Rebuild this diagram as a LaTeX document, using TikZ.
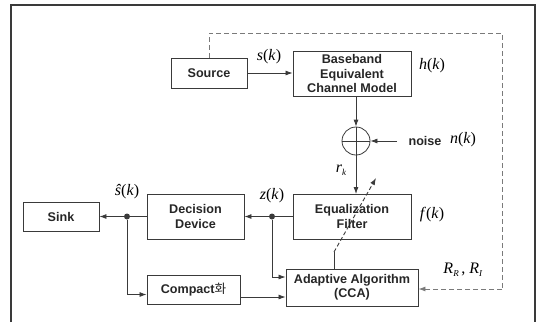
\documentclass[tikz,border=0pt]{standalone}
\usepackage{fontspec}
\setmainfont{Liberation Sans}
\newfontfamily\serf{Liberation Serif}
\newfontfamily\kr{Noto Sans CJK KR}
\usetikzlibrary{arrows.meta}
\definecolor{ln}{HTML}{3A3A3A}
\definecolor{dsh}{HTML}{7A7A7A}
\newcommand{\mlab}[1]{{\serf\fontsize{16}{18}\selectfont #1}}
\begin{document}
\begin{tikzpicture}[x=1pt,y=-1pt,
  blk/.style={draw=ln,line width=0.9pt,fill=white,inner sep=0pt,font=\fontsize{12.6}{14.2}\selectfont\bfseries,align=center,text=black!85},
  con/.style={draw=ln,line width=0.8pt},
  arr/.style={con,-{Latex[length=7pt,width=5pt]}},
  dsharr/.style={draw=dsh,line width=0.9pt,dash pattern=on 5pt off 3pt},
  dotn/.style={circle,fill=ln,inner sep=0pt,minimum size=6pt}]
\useasboundingbox (0,0) rectangle (537,322);
\draw[draw=ln,line width=1.2pt] (11,322) -- (11,5) -- (535,5) -- (535,322);
% blocks
\node[blk,minimum width=76pt,minimum height=30pt] (src) at (209,73) {Source};
\node[blk,minimum width=118pt,minimum height=45pt] (chan) at (352,73.5) {Baseband\\Equivalent\\Channel Model};
\node[draw=ln,line width=0.8pt,circle,minimum size=28pt,inner sep=0pt] (sum) at (356,141) {};
\draw[con] (sum.north) -- (sum.south) (sum.west) -- (sum.east);
\node[blk,minimum width=118pt,minimum height=45pt] (eq) at (352,216.5) {Equalization\\Filter};
\node[blk,minimum width=97pt,minimum height=45pt] (dec) at (195.5,216.5) {Decision\\Device};
\node[blk,minimum width=76pt,minimum height=29pt] (sink) at (61,216.5) {Sink};
\node[blk,minimum width=132pt,minimum height=37pt] (adapt) at (352,287.5) {Adaptive Algorithm\\(CCA)};
\node[blk,minimum width=93pt,minimum height=29pt] (comp) at (193.5,289.5) {Compact{\kr\mdseries 화}};
\node[dotn] (dz) at (272,216.5) {};
\node[dotn] (ds) at (127,216.5) {};
\coordinate (nz) at (397,141);
\coordinate (ch1) at (356,96);
\coordinate (eqt) at (356,194);
\coordinate (dashTop) at (209,33);
\coordinate (dashR) at (502,33);
\coordinate (adT) at (334,269);
\coordinate (adK) at (334,252);
\coordinate (adE) at (376,178);
% connectors
\draw[arr] (src.east) -- (chan.west |- src.east);
\draw[arr] (ch1) -- (sum.north);
\draw[arr] (nz) -- (sum.east);
\draw[arr] (sum.south) -- (eqt);
\draw[con] (eq.west) -- (dz);
\draw[arr] (dz) -- (dec.east);
\draw[con] (dec.west) -- (ds);
\draw[arr] (ds) -- (sink.east);
\draw[arr] (dz) |- (adapt.west |- 0,277);
\draw[arr] (ds) |- (comp.west |- 0,294.5);
\draw[arr] (comp.east |- 0,297) -- (adapt.west |- 0,297);
\draw[dsharr] (src.north) -- (dashTop) -- (dashR) -- (dashR |- 0,289);
\draw[dsharr,-{Latex[length=7pt,width=5pt]}] (dashR |- 0,289) -- (adapt.east |- 0,289);
\draw[con] (adT) -- (adK);
\draw[dsharr,draw=ln,dash pattern=on 4pt off 2.5pt,-{Latex[length=7pt,width=5pt]}] (adK) -- (adE);
% labels
\node (ls) at (269,57) {\mlab{\textit{s}(\textit{k})}};
\node (lh) at (432,66) {\mlab{\textit{h}(\textit{k})}};
\node[font=\fontsize{12.6}{14}\selectfont\bfseries,text=black!85] (lnoise) at (425,141) {noise};
\node (ln) at (463,140) {\mlab{\textit{n}(\textit{k})}};
\node (lr) at (341,170) {\mlab{\textit{r}\raisebox{-3pt}{\fontsize{9}{10}\selectfont\textit{k}}}};
\node (lz) at (272,196) {\mlab{\textit{z}(\textit{k})}};
\node (lsh) at (127,192) {\mlab{\textit{ŝ}(\textit{k})}};
\node (lf) at (432,215) {\mlab{\textit{f}(\textit{k})}};
\node (lR) at (463,270) {\mlab{\textit{R}\raisebox{-3pt}{\fontsize{9}{10}\selectfont\textit{R}}\,,\ \textit{R}\raisebox{-3pt}{\fontsize{9}{10}\selectfont\textit{I}}}};
\end{tikzpicture}
\end{document}
